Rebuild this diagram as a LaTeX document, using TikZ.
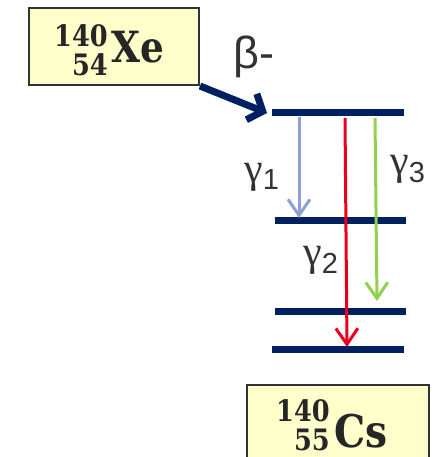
\documentclass[tikz,border=0pt]{standalone}
\usepackage{fontspec}
\setmainfont{Liberation Sans}
\newfontfamily\boxfont{DejaVu Serif}[FakeStretch=0.87]
\newfontfamily\gfont{Liberation Serif}
\usetikzlibrary{arrows.meta}
\definecolor{navy}{HTML}{002060}
\definecolor{boxfill}{HTML}{FFFFCC}
\definecolor{boxedge}{HTML}{333333}
\definecolor{gblue}{HTML}{8E9FD3}
\definecolor{gred}{HTML}{E8001C}
\definecolor{ggreen}{HTML}{92D050}
\newcommand\gsub[1]{\raisebox{-8pt}{\fontsize{29}{29}\selectfont#1}}
\newcommand\gam{{\gfont\fontsize{42}{42}\selectfont γ}}
\begin{document}
\begin{tikzpicture}[x=1pt,y=-1pt]
\useasboundingbox (0,0) rectangle (446,457);
\tikzset{
  isobox/.style={draw=boxedge, line width=2pt, fill=boxfill, inner sep=0pt},
  levelline/.style={draw=navy, line width=7pt},
  gam/.style={line width=3pt, -{Straight Barb[length=16pt,width=22pt]}},
  betaarrow/.style={draw=navy, line width=7pt, -{Straight Barb[length=12pt,width=28pt]}},
  massnum/.style={font=\boxfont\bfseries\fontsize{29.5}{29.5}\selectfont, anchor=base east, inner sep=0pt, text=black!85},
  elem/.style={font=\boxfont\bfseries\fontsize{43}{43}\selectfont, anchor=base west, inner sep=0pt, text=black!85},
  glabel/.style={font=\fontsize{38}{38}\selectfont, anchor=base west, inner sep=0pt, text=black!80},
  blabel/.style={font=\fontsize{45}{45}\selectfont, anchor=base west, inner sep=0pt, text=black!80}
}
% beta arrow (behind box)
\node[isobox, minimum width=170pt, minimum height=77pt] (xebox) at (114,46.5) {};
\coordinate (betaend) at (267,113);
\draw[betaarrow] (xebox.south east) -- (betaend);
\node[isobox, minimum width=170pt, minimum height=77pt] (xebox2) at (114,46.5) {};
\node[massnum] (xem) at (108,47) {140};
\node[massnum] (xez) at (108,76) {54};
\node[elem] (xes) at (111,63) {Xe};

% Cs box
\node[isobox, minimum width=182pt, minimum height=90pt] (csbox) at (338,430) {};
\node[massnum] (csm) at (330,421) {140};
\node[massnum] (csz) at (330,450) {55};
\node[elem, font=\boxfont\bfseries\fontsize{45}{45}\selectfont] (css) at (334,447) {Cs};

% levels
\coordinate (l1a) at (272,113); \coordinate (l1b) at (404,113);
\coordinate (l2a) at (275,220); \coordinate (l2b) at (406,220);
\coordinate (l3a) at (275,311); \coordinate (l3b) at (406,311);
\coordinate (l4a) at (272,349); \coordinate (l4b) at (404,349);
\draw[levelline] (l1a) -- (l1b);
\draw[levelline] (l2a) -- (l2b);
\draw[levelline] (l3a) -- (l3b);
\draw[levelline] (l4a) -- (l4b);

% gamma arrows
\coordinate (g1s) at (299,117); \coordinate (g1e) at (299,218);
\coordinate (g2s) at (345,118); \coordinate (g2e) at (347,347);
\coordinate (g3s) at (375,118); \coordinate (g3e) at (377,301);
\draw[gam, gblue] (g1s) -- (g1e);
\draw[gam, ggreen] (g3s) -- (g3e);
\draw[gam, gred] (g2s) -- (g2e);

% labels
\node[blabel] (beta) at (233,69) {β-};
\node[glabel] (lg1) at (244,182) {\gam\gsub{1}};
\node[glabel] (lg2) at (303,265) {\gam\gsub{2}};
\node[glabel] (lg3) at (390,175) {\gam\gsub{3}};
\end{tikzpicture}
\end{document}
